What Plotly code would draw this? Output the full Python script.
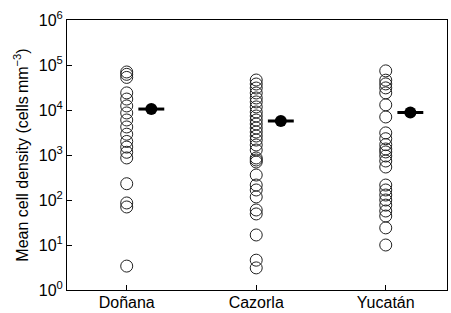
import plotly.graph_objects as go

sites = ["Doñana", "Cazorla", "Yucatán"]
site_pos = [1, 2, 3]

donana = [70000, 62000, 53000, 24000, 17500, 12300, 8600, 6000, 4200, 2900,
          2000, 1500, 1150, 860, 230, 86, 70, 3.4]
cazorla = [46400, 37800, 30800, 23900, 18500, 15100, 11700, 9030, 7360, 5990,
           4890, 3980, 3240, 2640, 2150, 1670, 1290, 858, 774, 699, 359, 215,
           167, 117, 60, 49, 16.7, 4.6, 3.1]
yucatan = [74000, 46000, 38000, 31000, 24000, 13000, 7000, 3100, 2300, 1700,
           1360, 1170, 950, 736, 541, 215, 167, 129, 100, 77, 57, 44, 24, 10]
means = [10500, 5700, 8800]
mean_offset = 0.19

ytick_vals = [1, 10, 100, 1000, 10000, 100000, 1000000]
ytick_text = ["10<sup>0</sup>", "10<sup>1</sup>", "10<sup>2</sup>", "10<sup>3</sup>",
              "10<sup>4</sup>", "10<sup>5</sup>", "10<sup>6</sup>"]

fig = go.Figure()
for pos, vals in zip(site_pos, [donana, cazorla, yucatan]):
    fig.add_trace(go.Scatter(
        x=[pos] * len(vals), y=vals, mode="markers",
        marker=dict(symbol="circle-open", size=12, color="#222",
                    line=dict(width=1, color="#222")),
        showlegend=False, hoverinfo="y"))

fig.add_trace(go.Scatter(
    x=[p + mean_offset for p in site_pos], y=means, mode="markers",
    marker=dict(symbol="circle", size=12, color="black"),
    error_x=dict(type="constant", value=0.1, thickness=3, width=0, color="black"),
    showlegend=False))

font = dict(family="Liberation Sans, Arial, sans-serif", size=16, color="black")

fig.update_layout(
    width=451, height=313,
    margin=dict(l=67, r=4, t=20, b=23),
    paper_bgcolor="white", plot_bgcolor="white",
    font=font,
    xaxis=dict(range=[0.539, 3.473], tickvals=site_pos, ticktext=sites,
               ticks="inside", ticklen=5, tickcolor="black",
               showline=True, linecolor="black", linewidth=1, mirror=True,
               showgrid=False, zeroline=False, tickfont=font,
               automargin=False, ticklabelstandoff=-2),
    yaxis=dict(type="log", range=[0, 6], tickvals=ytick_vals, ticktext=ytick_text,
               ticks="inside", ticklen=5, tickcolor="black",
               showline=True, linecolor="black", linewidth=1, mirror=True,
               showgrid=False, zeroline=False, tickfont=font, automargin=False,
               title=dict(text="Mean cell density (cells\u2009mm<sup>\u22123</sup>)",
                          font=font, standoff=6)),
)

fig.write_html("out.html", config={"displayModeBar": False},
               post_script="document.body.style.margin='0';document.body.style.overflow='hidden';")
